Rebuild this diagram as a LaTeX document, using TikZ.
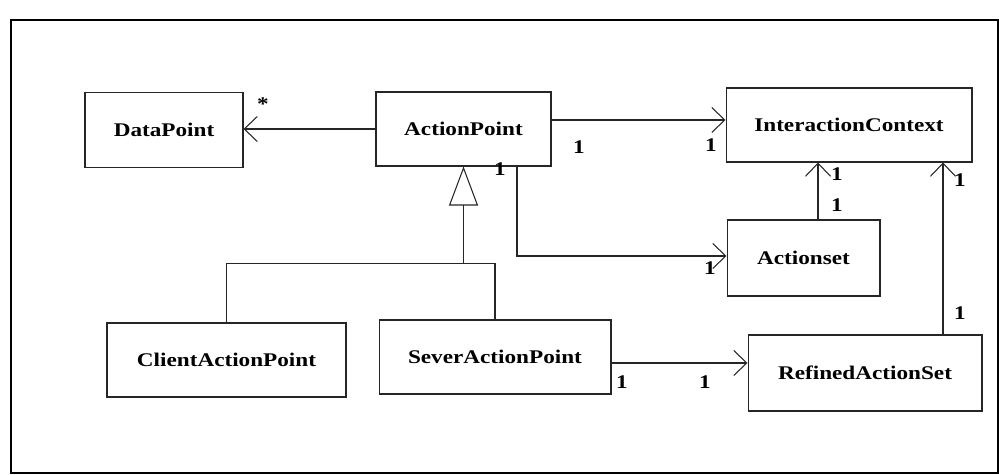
\documentclass[tikz,border=0pt]{standalone}
\usepackage{fontspec}
\setmainfont{Liberation Serif}[FakeStretch=1.2]
\usetikzlibrary{arrows.meta,calc,positioning}

\begin{document}
\begin{tikzpicture}[
  x=0.02cm, y=-0.02cm,
  font=\fontsize{11}{13}\selectfont\bfseries,
  cls/.style={draw=black!85, line width=0.6pt, align=center, inner sep=0pt},
  mult/.style={inner sep=0pt, font=\fontsize{11}{13}\selectfont\bfseries},
  assoc/.style={-{Straight Barb[length=2.6mm, width=5mm, line width=0.6pt]}, line width=0.6pt, draw=black!85},
  inherit/.style={-{Triangle[open, length=7.8mm, width=5.8mm, line width=0.6pt]}, line width=0.6pt, draw=black!85},
  link/.style={line width=0.6pt, draw=black!85}
]
\useasboundingbox (0,0) rectangle (999,475);
% frame
\draw[line width=1.4pt] (11,20) rectangle (998,473);

% classes
\node[cls, minimum width=3.16cm, minimum height=1.5cm] (dp) at (164,130) {DataPoint};
\node[cls, minimum width=3.5cm, minimum height=1.48cm] (ap) at (463.5,129) {ActionPoint};
\node[cls, minimum width=4.92cm, minimum height=1.48cm] (ic) at (849,125) {InteractionContext};
\node[cls, minimum width=3.06cm, minimum height=1.52cm] (as) at (803.5,258) {Actionset};
\node[cls, minimum width=4.68cm, minimum height=1.52cm] (ras) at (865,373) {RefinedActionSet};
\node[cls, minimum width=4.78cm, minimum height=1.48cm] (cap) at (226.5,360) {ClientActionPoint};
\node[cls, minimum width=4.64cm, minimum height=1.48cm] (sap) at (495,357) {SeverActionPoint};

% associations
\draw[assoc] (ap.west) -- (ap.west -| dp.east);
\draw[assoc] ([yshift=0.18cm]ap.east) -- ([yshift=0.18cm]ap.east -| ic.west);
\draw[assoc] ([xshift=1.07cm]ap.south) |- ([yshift=0.04cm]as.west);
\draw[assoc] ([xshift=0.29cm]as.north) -- ([xshift=0.29cm]as.north |- ic.south);
\draw[assoc] ([xshift=1.56cm]ras.north) -- ([xshift=1.56cm]ras.north |- ic.south);
\draw[assoc] ([yshift=-0.12cm]sap.east) -- ([yshift=-0.12cm]sap.east -| ras.west);

% generalization
\coordinate (split) at ($(ap.south)+(0,97)$);
\draw[inherit] (split) -- (ap.south);
\draw[link] (cap.north) |- (split) -| (sap.north);

% multiplicities
\node[mult] (m0) at (263,104) {*};
\node[mult] (m1) at (579,147) {1};
\node[mult] (m2) at (711,145) {1};
\node[mult] (m3) at (500,169) {1};
\node[mult] (m4) at (710,268) {1};
\node[mult] (m5) at (837,174) {1};
\node[mult] (m6) at (837,205) {1};
\node[mult] (m7) at (960,180) {1};
\node[mult] (m8) at (960,313) {1};
\node[mult] (m9) at (622,382) {1};
\node[mult] (m10) at (705,382) {1};
\end{tikzpicture}
\end{document}
